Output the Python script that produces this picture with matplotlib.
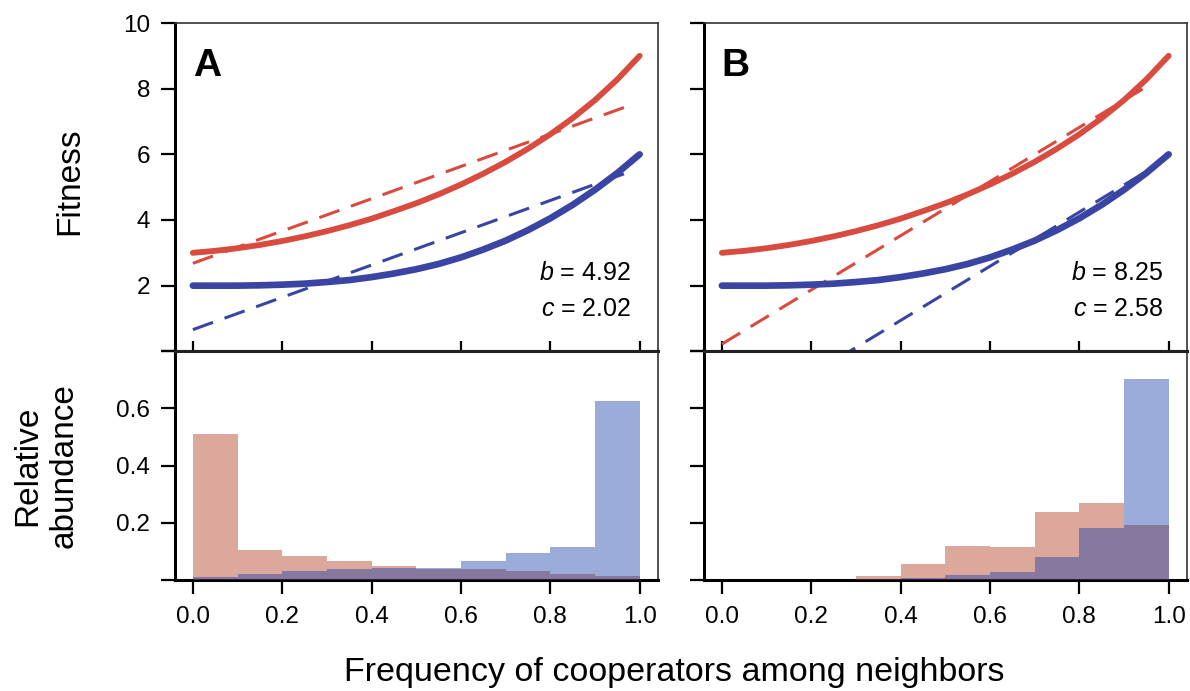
import numpy as np
import matplotlib.pyplot as plt

plt.rcParams['font.family'] = ['Liberation Sans', 'DejaVu Sans']
plt.rcParams['mathtext.fontset'] = 'custom'
plt.rcParams['mathtext.it'] = 'Liberation Sans:italic'
plt.rcParams['mathtext.rm'] = 'Liberation Sans'

# fitness curves (same in both panels)
x_fit = [0.0, 0.05, 0.1, 0.15, 0.2, 0.25, 0.3, 0.35, 0.4, 0.45, 0.5,
         0.55, 0.6, 0.65, 0.7, 0.75, 0.8, 0.85, 0.9, 0.95, 1.0]
fit_red = [3.00, 3.06, 3.14, 3.24, 3.36, 3.50, 3.66, 3.84, 4.04, 4.27, 4.51,
           4.78, 5.08, 5.41, 5.77, 6.17, 6.61, 7.10, 7.65, 8.28, 9.00]
fit_blue = [2.00, 2.00, 2.00, 2.01, 2.03, 2.06, 2.11, 2.17, 2.26, 2.37, 2.50,
            2.66, 2.86, 3.10, 3.37, 3.69, 4.05, 4.46, 4.92, 5.43, 6.00]

# dashed linear fits: x ends and y ends
dash_x_A = [0.0, 0.98]
dash_red_A = [2.68, 7.50]
dash_blue_A = [0.66, 5.48]
dash_x_B = [0.0, 0.96]
dash_red_B = [0.22, 8.14]
dash_blue_B = [-2.36, 5.56]

b_vals = ['4.92', '8.25']
c_vals = ['2.02', '2.58']
panel_names = ['A', 'B']

# histograms, bins of width 0.1
bin_left = [0.0, 0.1, 0.2, 0.3, 0.4, 0.5, 0.6, 0.7, 0.8, 0.9]
hist_red_A = [0.511, 0.104, 0.085, 0.067, 0.050, 0.038, 0.037, 0.033, 0.021, 0.014]
hist_blue_A = [0.012, 0.020, 0.032, 0.037, 0.042, 0.042, 0.068, 0.093, 0.116, 0.625]
hist_red_B = [0.0, 0.0, 0.0, 0.014, 0.055, 0.120, 0.116, 0.237, 0.269, 0.193]
hist_blue_B = [0.0, 0.0, 0.0, 0.002, 0.006, 0.018, 0.027, 0.081, 0.182, 0.702]

RED = '#d94a3f'
BLUE = '#3a45a3'
TICK_FS = 17.5

fig = plt.figure(figsize=(11.9, 6.91), dpi=100)

lefts = [175 / 1190, 704 / 1190]
w = 482.5 / 1190
top_axes = [fig.add_axes([l, 0.4916, w, 0.4751]) for l in lefts]
bot_axes = [fig.add_axes([l, 0.1606, w, 0.331]) for l in lefts]

dash_sets = [(dash_x_A, dash_red_A, dash_blue_A), (dash_x_B, dash_red_B, dash_blue_B)]
hist_sets = [(hist_red_A, hist_blue_A), (hist_red_B, hist_blue_B)]


def style(ax, thick_top=False):
    for s in ['left', 'bottom']:
        ax.spines[s].set_linewidth(2.2)
        ax.spines[s].set_color('black')
    ax.spines['right'].set_linewidth(1.2)
    ax.spines['right'].set_color('#333333')
    if thick_top:
        ax.spines['top'].set_linewidth(2.2)
        ax.spines['top'].set_color('#222222')
    else:
        ax.spines['top'].set_linewidth(1.2)
        ax.spines['top'].set_color('#333333')
    ax.tick_params(axis='y', direction='out', length=10, width=1.6, pad=8, labelsize=TICK_FS)
    ax.set_xlim(-0.04, 1.04)


for i in range(2):
    ax = top_axes[i]
    dx, dr, db = dash_sets[i]
    ax.plot(dx, dr, color=RED, lw=2.2, dashes=(7, 4))
    ax.plot(dx, db, color=BLUE, lw=2.2, dashes=(7, 4))
    ax.plot(x_fit, fit_red, color=RED, lw=4.2, solid_capstyle='round', solid_joinstyle='round')
    ax.plot(x_fit, fit_blue, color=BLUE, lw=4.8, solid_capstyle='round', solid_joinstyle='round')
    ax.set_ylim(0, 10)
    style(ax)
    ax.set_yticks([0, 2, 4, 6, 8, 10])
    if i == 0:
        ax.set_yticklabels(['', '2', '4', '6', '8', '10'])
    else:
        ax.set_yticklabels([])
    ax.set_xticks([0, 0.2, 0.4, 0.6, 0.8, 1.0])
    ax.tick_params(axis='x', direction='inout', length=14, width=1.6, labelbottom=False)
    ax.text(0.037, 0.8386, panel_names[i], transform=ax.transAxes, fontsize=28,
            fontweight='bold', ha='left', va='baseline')
    xr = 0.945 if i == 0 else 0.952
    ax.text(xr, 0.217, '$b$ = ' + b_vals[i], transform=ax.transAxes, fontsize=18,
            ha='right', va='baseline')
    ax.text(xr, 0.1075, '$c$ = ' + c_vals[i], transform=ax.transAxes, fontsize=18,
            ha='right', va='baseline')

for i in range(2):
    ax = bot_axes[i]
    hr, hb = hist_sets[i]
    ax.bar(bin_left, hr, width=0.1, align='edge', color='#a82605', alpha=0.4, lw=0, zorder=3)
    ax.bar(bin_left, hb, width=0.1, align='edge', color='#0530a5', alpha=0.4, lw=0, zorder=3)
    ax.set_ylim(0, 0.8)
    style(ax, thick_top=True)
    ax.set_yticks([0, 0.2, 0.4, 0.6, 0.8])
    if i == 0:
        ax.set_yticklabels(['', '0.2', '0.4', '0.6', ''])
    else:
        ax.set_yticklabels([])
    ax.set_xticks([0, 0.2, 0.4, 0.6, 0.8, 1.0])
    ax.set_xticklabels(['0.0', '0.2', '0.4', '0.6', '0.8', '1.0'])
    ax.tick_params(axis='x', direction='out', length=10, width=1.6, pad=9, labelsize=TICK_FS)

fig.text(70 / 1190, 1 - 181 / 691, 'Fitness', rotation=90, fontsize=24, ha='center', va='center')
fig.text(46 / 1190, 1 - 466 / 691, 'Relative\nabundance', rotation=90, fontsize=24,
         ha='center', va='center', linespacing=1.25)
fig.text(674 / 1190, 1 - 681 / 691, 'Frequency of cooperators among neighbors', fontsize=24.5,
         ha='center', va='baseline')

fig.savefig('out.png', dpi=100)
